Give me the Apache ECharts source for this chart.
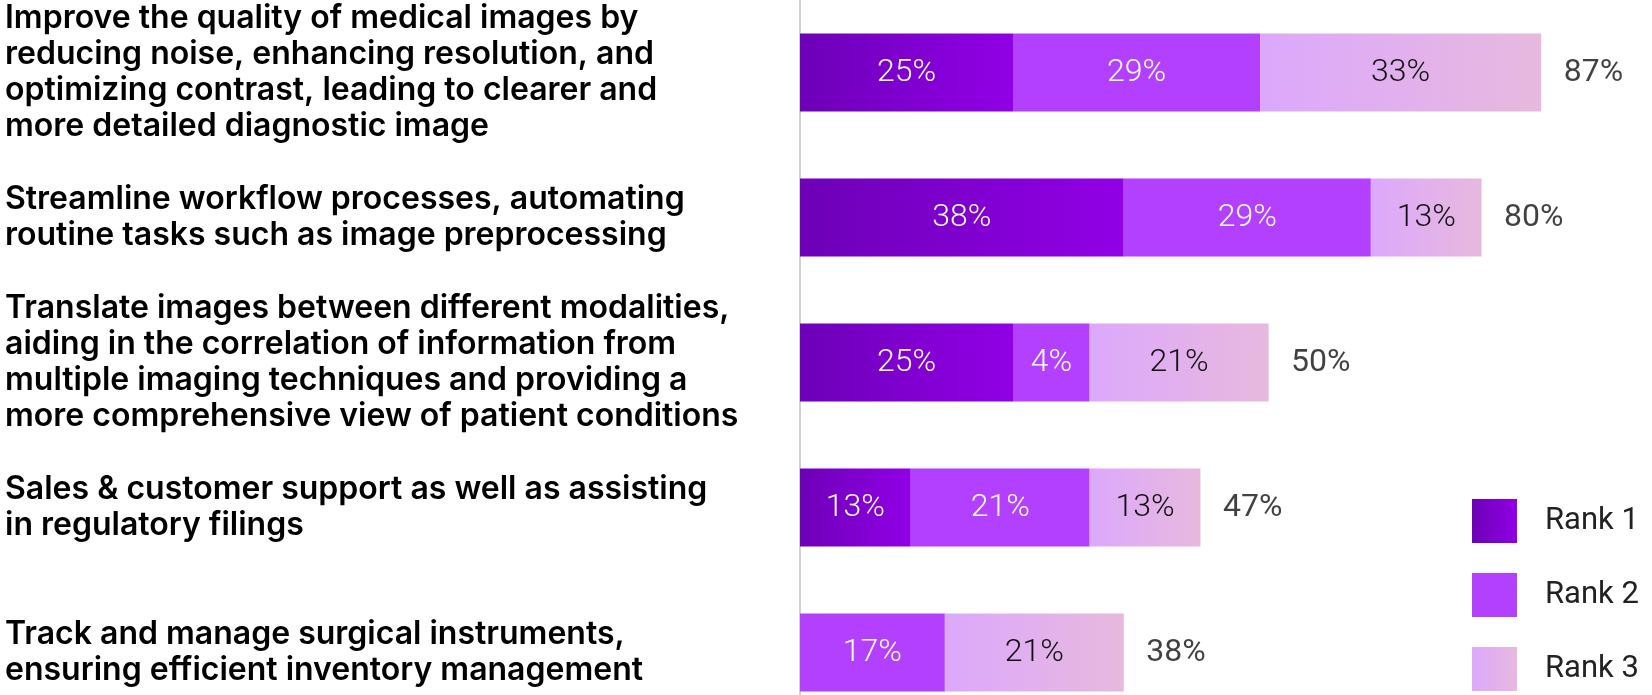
<!DOCTYPE html>
<html>
    <head>
        <meta charset="utf-8">
        <script src="https://cdn.jsdelivr.net/npm/echarts@6/dist/echarts.min.js"></script>
        <style>
            html, body { margin: 0; padding: 0; background: #fff; }
            #chart { width: 1652px; height: 695px; }
        </style>
    </head>
    <body>
        <div id="chart"></div>
        <script>

        var categories = [
            'Improve the quality of medical images by\nreducing noise, enhancing resolution, and\noptimizing contrast, leading to clearer and\nmore detailed diagnostic image',
            'Streamline workflow processes, automating\nroutine tasks such as image preprocessing',
            'Translate images between different modalities,\naiding in the correlation of information from\nmultiple imaging techniques and providing a\nmore comprehensive view of patient conditions',
            'Sales & customer support as well as assisting\nin regulatory filings',
            'Track and manage surgical instruments,\nensuring efficient inventory management'
        ];
        var seriesNames = ['Rank 1', 'Rank 2', 'Rank 3'];
        var rank1 = [25, 38, 25, 13, 0];
        var rank2 = [29, 29, 4, 21, 17];
        var rank3 = [33, 13, 21, 13, 21];

        // small segments get a minimum visible length so their label fits
        var MIN_SEG = 9;

        function drawn(v) {
            return v > 0 ? Math.max(v, MIN_SEG) : 0;
        }

        function grad(c1, c2) {
            return new echarts.graphic.LinearGradient(0, 0, 1, 0, [
                { offset: 0, color: c1 },
                { offset: 1, color: c2 }
            ]);
        }

        var colors = [
            grad('#6d00b7', '#9100e6'),
            '#b340ff',
            grad('#dca8fc', '#e7b9de')
        ];
        var labelColors = ['#fff', '#fff', '#111'];
        var ranks = [rank1, rank2, rank3];

        var series = ranks.map(function (arr, i) {
            return {
                type: 'bar',
                name: seriesNames[i],
                stack: 'total',
                barWidth: 78,
                itemStyle: { color: colors[i] },
                label: {
                    show: true,
                    position: 'inside',
                    color: labelColors[i],
                    fontFamily: 'Roboto',
                    fontWeight: 300,
                    fontSize: 32,
                    formatter: function (p) {
                        return p.data.real > 0 ? p.data.real + '%' : '';
                    }
                },
                emphasis: { disabled: true },
                data: arr.map(function (v) {
                    return { value: drawn(v), real: v };
                })
            };
        });

        // totals after the end of each bar
        series.push({
            type: 'scatter',
            symbolSize: 1,
            itemStyle: { color: 'rgba(0,0,0,0)' },
            label: {
                show: true,
                position: 'right',
                distance: 22,
                color: '#111',
                fontFamily: 'Roboto',
                fontWeight: 400,
                fontSize: 32,
                formatter: function (p) {
                    return p.data.total + '%';
                }
            },
            data: categories.map(function (c, k) {
                var end = drawn(rank1[k]) + drawn(rank2[k]) + drawn(rank3[k]);
                return { value: [end, k], total: rank1[k] + rank2[k] + rank3[k] };
            })
        });

        var chart = echarts.init(document.getElementById('chart'));

        chart.setOption({
            animation: false,
            legend: {
                data: seriesNames,
                orient: 'vertical',
                left: 1472,
                top: 499,
                padding: 0,
                itemWidth: 45,
                itemHeight: 44,
                itemGap: 30,
                icon: 'rect',
                textStyle: {
                    fontFamily: 'Roboto',
                    fontSize: 31,
                    color: '#222',
                    padding: [0, 0, 0, 23]
                }
            },
            grid: {
                left: 800,
                top: 0,
                width: 852,
                height: 725,
                outerBoundsMode: 'none'
            },
            xAxis: {
                type: 'value',
                min: 0,
                max: 100,
                show: false
            },
            yAxis: {
                type: 'category',
                inverse: true,
                data: categories,
                axisLine: {
                    show: true,
                    lineStyle: { color: '#d2d2d2', width: 2 }
                },
                axisTick: { show: false },
                axisLabel: {
                    align: 'left',
                    margin: 795,
                    color: '#000',
                    fontFamily: 'Inter',
                    fontWeight: 600,
                    fontSize: 32,
                    lineHeight: 36
                }
            },
            series: series
        });

        </script>
    </body>
</html>
